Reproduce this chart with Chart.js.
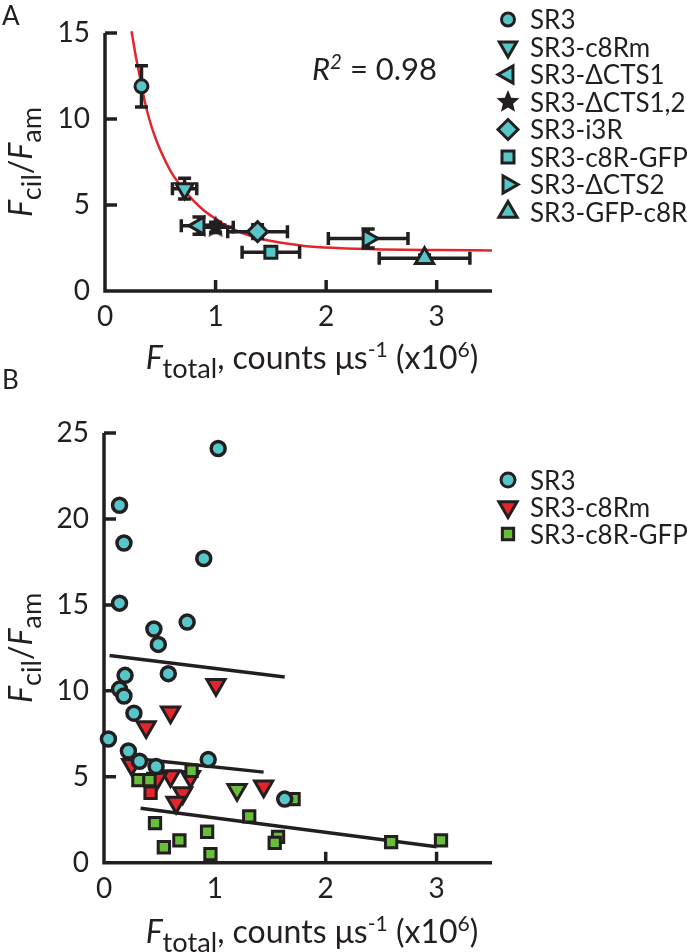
<!DOCTYPE html>
<html lang="en">
<head>
<meta charset="UTF-8">
<title>Fcil/Fam versus Ftotal</title>
<script src="https://cdn.jsdelivr.net/npm/chart.js"></script>
<style>
  body { margin: 0; background: #fff; }
  #wrap { position: relative; width: 687px; height: 952px; }
  canvas { position: absolute; left: 0; }
</style>
</head>
<body>
<div id="wrap">
  <canvas id="chartA" width="687" height="400" style="top:0"></canvas>
  <canvas id="chartB" width="687" height="602" style="top:350px"></canvas>
</div>
<script>
// ---- panel A: mean per construct (with error bars) ----
const namesA = ['SR3', 'SR3-c8Rm', 'SR3-\u0394CTS1', 'SR3-\u0394CTS1,2', 'SR3-i3R', 'SR3-c8R-GFP', 'SR3-\u0394CTS2', 'SR3-GFP-c8R'];
const xA    = [0.33, 0.72, 0.85, 1.00, 1.38, 1.50, 2.38, 2.89];
const yA    = [11.9, 5.95, 3.80, 3.70, 3.45, 2.25, 3.05, 1.90];
const xErrA = [0, 0.11, 0.16, 0.16, 0.27, 0.26, 0.36, 0.41];
const yErrA = [1.2, 0.6, 0.5, 0.3, 0.4, 0.2, 0.55, 0.2];
// red fit curve
const fitX = [0.24, 0.28, 0.32, 0.36, 0.40, 0.45, 0.50, 0.60, 0.70, 0.80, 0.90, 1.00, 1.10, 1.25, 1.40, 1.60, 1.80, 2.10, 2.50, 3.00, 3.50];
const fitY = [15.1, 13.6, 12.3, 11.0, 10.0, 9.0, 8.2, 6.9, 6.0, 5.25, 4.65, 4.2, 3.8, 3.35, 3.05, 2.8, 2.62, 2.5, 2.42, 2.38, 2.36];
const r2Value = '0.98';
const xTicksA = [0, 1, 2, 3];
const yTicksA = [0, 5, 10, 15];

// ---- panel B: single cells ----
const namesB = ['SR3', 'SR3-c8Rm', 'SR3-c8R-GFP'];
const sr3X = [1.03, 0.14, 0.18, 0.90, 0.14, 0.75, 0.45, 0.49, 0.58, 0.19, 0.14, 0.18, 0.27, 0.04, 0.22, 0.32, 0.47, 0.94, 1.63];
const sr3Y = [24.1, 20.8, 18.6, 17.7, 15.1, 14.0, 13.6, 12.7, 11.0, 10.9, 10.1, 9.7, 8.7, 7.2, 6.5, 5.9, 5.6, 6.0, 3.7];
const c8rmX = [1.01, 0.60, 0.38, 0.60, 0.48, 0.71, 0.65, 1.44, 1.20, 0.78, 0.42, 0.25];
const c8rmY = [10.35, 8.75, 7.9, 5.05, 4.9, 4.05, 3.5, 4.45, 4.25, 5.0, 4.07, 5.7];
const gfpX = [0.31, 0.41, 0.79, 0.46, 0.54, 0.68, 0.93, 0.96, 1.31, 1.57, 1.54, 1.71, 2.59, 3.04];
const gfpY = [4.8, 4.8, 5.35, 2.3, 0.9, 1.3, 1.8, 0.5, 2.7, 1.5, 1.15, 3.7, 1.2, 1.3];
// regression lines (end points)
const lineSr3X = [0.05, 1.63],  lineSr3Y = [12.05, 10.8];
const lineC8rmX = [0.30, 1.44], lineC8rmY = [6.05, 5.27];
const lineGfpX = [0.33, 3.00],  lineGfpY = [3.17, 0.93];
const xTicksB = [0, 1, 2, 3];
const yTicksB = [0, 5, 10, 15, 20, 25];

// ---- styles ----
const INK = '#231f20', CYAN = '#56c6c9', RED = '#e2262b', GREEN = '#68bd3a';
const FONT = 'Lato, "Open Sans", sans-serif';

function starImage(r) {
  const c = document.createElement('canvas');
  const s = Math.ceil(r * 2 + 2);
  c.width = c.height = s;
  const g = c.getContext('2d');
  g.beginPath();
  for (let i = 0; i < 10; i++) {
    const a = -Math.PI / 2 + i * Math.PI / 5;
    const rr = i % 2 ? r * 0.45 : r;
    g.lineTo(s / 2 + rr * Math.cos(a), s / 2 + rr * Math.sin(a));
  }
  g.closePath();
  g.fillStyle = INK;
  g.fill();
  return c;
}
const STAR = starImage(12);

const shapeA = ['circle', 'triangle', 'triangle', STAR, 'rectRot', 'rect', 'triangle', 'triangle'];
const rotA   = [0, 180, 270, 0, 0, 0, 90, 0];
const sizeA  = [6.5, 10, 10, 12, 10, 8.5, 10, 10.5];

const c8rmShape = c8rmX.map((_, i) => i === 10 ? 'rect' : 'triangle');
const c8rmRot   = c8rmX.map((_, i) => i === 10 ? 0 : 180);
const c8rmSize  = c8rmX.map((_, i) => i === 10 ? 8 : 10.5);
const c8rmFill  = c8rmX.map((_, i) => i === 8 ? GREEN : RED);

function pts(xs, ys) { return xs.map((x, i) => ({ x: x, y: ys[i] })); }

function drawMarker(ctx, shape, rot, r, x, y, fill, bw) {
  if (shape instanceof HTMLCanvasElement) {
    ctx.drawImage(shape, x - shape.width / 2, y - shape.height / 2);
    return;
  }
  ctx.save();
  ctx.translate(x, y);
  ctx.rotate(rot * Math.PI / 180);
  ctx.beginPath();
  if (shape === 'circle') ctx.arc(0, 0, r, 0, Math.PI * 2);
  else if (shape === 'triangle') {
    for (let k = 0; k < 3; k++) {
      const a = k * 2 * Math.PI / 3;
      ctx.lineTo(Math.sin(a) * r, -Math.cos(a) * r);
    }
    ctx.closePath();
  } else if (shape === 'rect') {
    const s = r * Math.SQRT1_2;
    ctx.rect(-s, -s, 2 * s, 2 * s);
  } else if (shape === 'rectRot') {
    ctx.moveTo(0, -r); ctx.lineTo(r, 0); ctx.lineTo(0, r); ctx.lineTo(-r, 0); ctx.closePath();
  }
  ctx.fillStyle = fill;
  ctx.fill();
  ctx.lineWidth = bw;
  ctx.strokeStyle = INK;
  ctx.stroke();
  ctx.restore();
}

// rich text with italics / sub / superscripts
function partFont(p, size) {
  const s = p.s === 'sub' ? size * 0.85 : p.s === 'sup' ? size * 0.66 : size;
  return (p.i ? 'italic ' : '') + s + 'px ' + FONT;
}
function richWidth(ctx, parts, size) {
  let w = 0;
  parts.forEach(p => { ctx.font = partFont(p, size); w += ctx.measureText(p.t).width; });
  return w;
}
function drawRich(ctx, parts, x, y, size, align) {
  let cx = align === 'center' ? x - richWidth(ctx, parts, size) / 2 : x;
  ctx.textAlign = 'left';
  ctx.textBaseline = 'alphabetic';
  ctx.fillStyle = INK;
  parts.forEach(p => {
    ctx.font = partFont(p, size);
    const dy = p.s === 'sub' ? size * 0.27 : p.s === 'sup' ? -size * 0.36 : 0;
    ctx.fillText(p.t, cx, y + dy);
    cx += ctx.measureText(p.t).width;
  });
}

const titleX = [{ t: 'F', i: 1 }, { t: 'total', s: 'sub' }, { t: ', counts \u03bcs' }, { t: '-1', s: 'sup' }, { t: ' (x10' }, { t: '6', s: 'sup' }, { t: ')' }];
const titleY = [{ t: 'F', i: 1 }, { t: 'cil', s: 'sub' }, { t: '/' }, { t: 'F', i: 1 }, { t: 'am', s: 'sub' }];

// the axis box sizes are fixed so the plot area lands where it does in the figure
function axis(min, max, ticks, isX, box) {
  return {
    type: 'linear', min: min, max: max,
    position: isX ? 'bottom' : 'left',
    grid: { display: false, drawTicks: false },
    border: { display: false },
    ticks: {
      color: INK, font: { family: FONT, size: 28 },
      padding: isX ? 9 : 15, autoSkip: false, maxRotation: 0, minRotation: 0
    },
    afterBuildTicks: s => { s.ticks = ticks.map(v => ({ value: v })); },
    afterFit: s => {
      if (isX) s.height = box; else s.width = box;
      s.paddingLeft = s.paddingRight = s.paddingTop = s.paddingBottom = 0;
    }
  };
}

// axis lines with inward tick marks
const axesPlugin = {
  id: 'axesLines',
  beforeDatasetsDraw(chart) {
    const ctx = chart.ctx, xs = chart.scales.x, ys = chart.scales.y;
    const x0 = xs.getPixelForValue(xs.min), x1 = xs.getPixelForValue(xs.max);
    const y0 = ys.getPixelForValue(ys.min), y1 = ys.getPixelForValue(ys.max);
    ctx.save();
    ctx.strokeStyle = INK;
    ctx.lineWidth = 3.5;
    ctx.beginPath();
    ctx.moveTo(x0, y1); ctx.lineTo(x0, y0); ctx.lineTo(x1, y0);
    ctx.stroke();
    ctx.beginPath();
    xs.ticks.forEach(t => {
      if (t.value === xs.min) return;
      const p = xs.getPixelForValue(t.value);
      ctx.moveTo(p, y0); ctx.lineTo(p, y0 - 11);
    });
    ys.ticks.forEach(t => {
      if (t.value === ys.min) return;
      const p = ys.getPixelForValue(t.value);
      ctx.moveTo(x0, p); ctx.lineTo(x0 + 12, p);
    });
    ctx.stroke();
    ctx.restore();
  }
};

// error bars for panel A, drawn just after the red curve (under the markers)
const errorBarPlugin = {
  id: 'errorBars',
  afterDatasetDraw(chart, args) {
    if (chart.canvas.id !== 'chartA' || args.index !== 0) return;
    const ctx = chart.ctx, xs = chart.scales.x, ys = chart.scales.y;
    ctx.save();
    ctx.strokeStyle = INK;
    ctx.lineWidth = 3.5;
    ctx.beginPath();
    xA.forEach((x, i) => {
      const px = xs.getPixelForValue(x), py = ys.getPixelForValue(yA[i]);
      if (xErrA[i]) {
        const l = xs.getPixelForValue(x - xErrA[i]), r = xs.getPixelForValue(x + xErrA[i]);
        ctx.moveTo(l, py); ctx.lineTo(r, py);
        ctx.moveTo(l, py - 6.5); ctx.lineTo(l, py + 6.5);
        ctx.moveTo(r, py - 6.5); ctx.lineTo(r, py + 6.5);
      }
      if (yErrA[i]) {
        const t = ys.getPixelForValue(yA[i] + yErrA[i]), b = ys.getPixelForValue(yA[i] - yErrA[i]);
        ctx.moveTo(px, t); ctx.lineTo(px, b);
        ctx.moveTo(px - 6.5, t); ctx.lineTo(px + 6.5, t);
        ctx.moveTo(px - 6.5, b); ctx.lineTo(px + 6.5, b);
      }
    });
    ctx.stroke();
    ctx.restore();
  }
};

// panel letter, axis titles, legend, R^2
function decorPlugin(o) {
  return {
    id: 'decor',
    afterDraw(chart) {
      const ctx = chart.ctx, ca = chart.chartArea;
      ctx.save();
      ctx.fillStyle = INK;
      ctx.font = '26px ' + FONT;
      ctx.textAlign = 'left';
      ctx.textBaseline = 'alphabetic';
      ctx.fillText(o.letter, 2, o.letterY);
      drawRich(ctx, titleX, 312, o.titleXY, 32, 'center');
      ctx.save();
      ctx.translate(32, (ca.top + ca.bottom) / 2);
      ctx.rotate(-Math.PI / 2);
      drawRich(ctx, titleY, 0, 0, 32, 'center');
      ctx.restore();
      o.names.forEach((n, i) => {
        const y = o.legendY + i * o.legendGap;
        drawMarker(ctx, o.shapes[i], o.rots[i], o.sizes[i], 508, y, o.fills[i], 3);
        ctx.fillStyle = INK;
        ctx.font = '26px ' + FONT;
        ctx.textAlign = 'left';
        ctx.fillText(n, 530, y + 9.5);
      });
      if (o.r2) {
        drawRich(ctx, [{ t: 'R', i: 1 }, { t: '2', s: 'sup', i: 1 }, { t: ' = ' + o.r2 }], 312, 80, 31, 'left');
      }
      ctx.restore();
    }
  };
}

Chart.register(axesPlugin, errorBarPlugin);

new Chart(document.getElementById('chartA'), {
  type: 'scatter',
  data: {
    datasets: [
      {
        label: 'fit', data: pts(fitX, fitY), showLine: true,
        borderColor: RED, borderWidth: 2.5, pointRadius: 0,
        tension: 0.4, cubicInterpolationMode: 'monotone', order: 2, clip: false
      },
      {
        label: 'constructs', data: pts(xA, yA),
        pointStyle: shapeA, rotation: rotA, pointRadius: sizeA,
        backgroundColor: CYAN, borderColor: INK, borderWidth: 3,
        order: 0, clip: false
      }
    ]
  },
  options: {
    responsive: false, animation: false,
    layout: { autoPadding: false, padding: { left: 0, right: 195, top: 33, bottom: 0 } },
    plugins: { legend: { display: false }, tooltip: { enabled: false } },
    scales: { x: axis(0, 3.5, xTicksA, true, 109), y: axis(0, 15, yTicksA, false, 105) }
  },
  plugins: [decorPlugin({
    letter: 'A', letterY: 25, titleXY: 369,
    names: namesA, shapes: shapeA, rots: rotA, sizes: sizeA, fills: namesA.map(() => CYAN),
    legendY: 19.5, legendGap: 27.5, r2: r2Value
  })]
});

function lineSet(xs, ys) {
  return { data: pts(xs, ys), showLine: true, borderColor: INK, borderWidth: 3.5, pointRadius: 0, order: 3, clip: false };
}

new Chart(document.getElementById('chartB'), {
  type: 'scatter',
  data: {
    datasets: [
      Object.assign({ label: 'fit SR3' }, lineSet(lineSr3X, lineSr3Y)),
      Object.assign({ label: 'fit SR3-c8Rm' }, lineSet(lineC8rmX, lineC8rmY)),
      Object.assign({ label: 'fit SR3-c8R-GFP' }, lineSet(lineGfpX, lineGfpY)),
      {
        label: namesB[1], data: pts(c8rmX, c8rmY),
        pointStyle: c8rmShape, rotation: c8rmRot, pointRadius: c8rmSize,
        backgroundColor: c8rmFill, borderColor: INK, borderWidth: 3, order: 2, clip: false
      },
      {
        label: namesB[2], data: pts(gfpX, gfpY),
        pointStyle: 'rect', pointRadius: 8, backgroundColor: GREEN,
        borderColor: INK, borderWidth: 3, order: 1, clip: false
      },
      {
        label: namesB[0], data: pts(sr3X, sr3Y),
        pointStyle: 'circle', pointRadius: 7, backgroundColor: CYAN,
        borderColor: INK, borderWidth: 3.5, order: 0, clip: false
      }
    ]
  },
  options: {
    responsive: false, animation: false,
    layout: { autoPadding: false, padding: { left: 0, right: 195, top: 83, bottom: 0 } },
    plugins: { legend: { display: false }, tooltip: { enabled: false } },
    scales: { x: axis(0, 3.5, xTicksB, true, 89.3), y: axis(0, 25, yTicksB, false, 104) }
  },
  plugins: [decorPlugin({
    letter: 'B', letterY: 39, titleXY: 593,
    names: namesB, shapes: ['circle', 'triangle', 'rect'], rots: [0, 180, 0], sizes: [7, 10.5, 8],
    fills: [CYAN, RED, GREEN], legendY: 130, legendGap: 27, r2: null
  })]
});
</script>
</body>
</html>
